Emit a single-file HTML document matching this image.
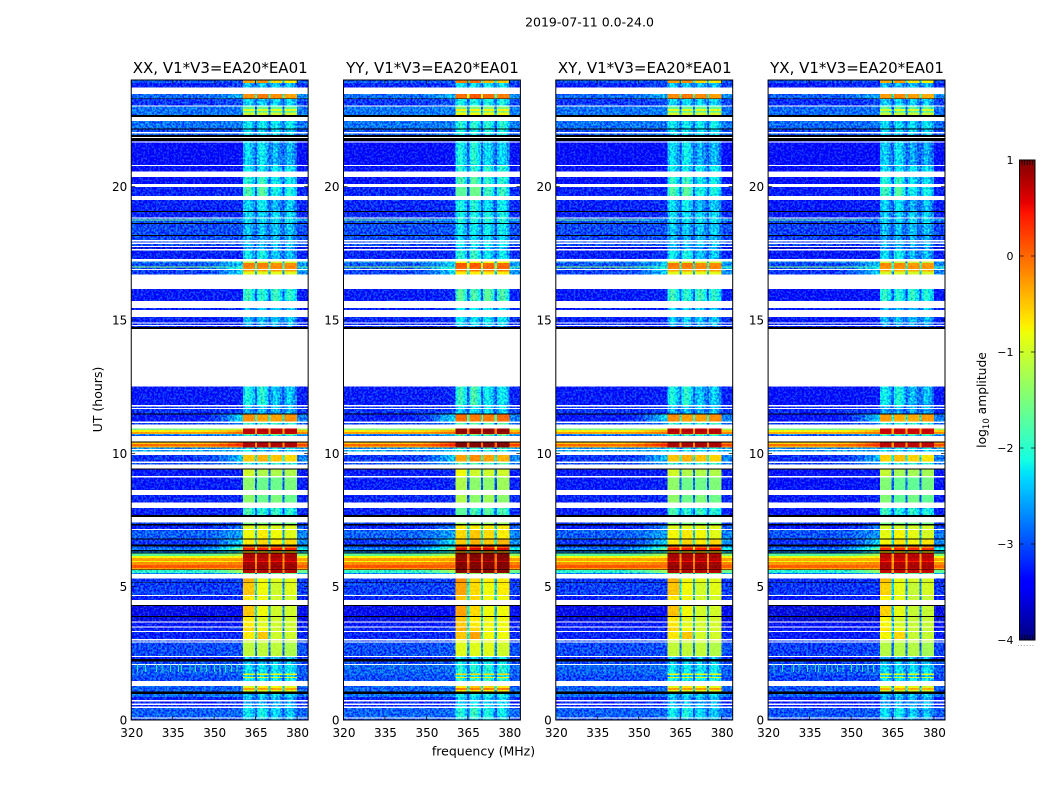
<!DOCTYPE html>
<html lang="en">
<head>
<meta charset="utf-8">
<title>2019-07-11 spectrogram</title>
<style>
html,body{margin:0;padding:0;background:#fff;}
svg{display:block;}
text{font-family:"DejaVu Sans","Liberation Sans",sans-serif;fill:#000;}
</style>
</head>
<body>
<svg id="figure" xmlns="http://www.w3.org/2000/svg" width="1050" height="800" viewBox="0 0 1050 800">
  <defs id="defs"></defs>
  <rect x="0" y="0" width="1050" height="800" fill="#fff"></rect>
  <text x="589.5" y="26.5" font-size="12.5" text-anchor="middle">2019-07-11 0.0-24.0</text>
  <text x="483.5" y="755.5" font-size="12.5" text-anchor="middle">frequency (MHz)</text>
  <text x="0" y="0" font-size="12.5" text-anchor="middle" transform="translate(102,399.5) rotate(-90)">UT (hours)</text>
  <text x="0" y="0" font-size="12.3" text-anchor="middle" transform="translate(986,400) rotate(-90)">log<tspan font-size="8.5" dy="3">10</tspan><tspan dy="-3"> amplitude</tspan></text>
  <text x="1017" y="646" font-size="8" fill="#888" style="fill:#888;letter-spacing:0.4px">......</text>
  <g id="panels"></g>
  <g id="colorbar"></g>
</svg>
<script>
// ---- chart data -------------------------------------------------------
const panelNames = ["XX, V1*V3=EA20*EA01", "YY, V1*V3=EA20*EA01", "XY, V1*V3=EA20*EA01", "YX, V1*V3=EA20*EA01"];
const panelOffLevelShift = [0, 0.02, 0, -0.05];
const panelOnLevelShift = [0, 0.2, 0.02, -0.06];
const xTickValues = [320, 335, 350, 365, 380];
const yTickValues = [0, 5, 10, 15, 20];
const colorbarTicks = [1, 0, -1, -2, -3, -4];
const W = null;   // no data (white)
const K = -99;    // flagged (black)
// sub-band boundaries (MHz)
const subbandEdges = [[360.5, 364.7], [365.5, 369.7], [370.4, 374.7], [375.5, 380]];
const gapEdges = [[364.7, 365.5], [369.7, 370.4], [374.7, 375.5]];
const rampEdges = [[320, 345], [345, 349], [349, 352], [352, 355], [355, 358], [358, 360.5]];
const rampFractions = [0, 0.08, 0.2, 0.4, 0.65, 0.9];
// level offset across a weak sub-band (bandpass shape)
const subbandProfile = [-0.12, 0.14, 0.12, -0.05, -0.28];
const rfiSpikeMHz = [322, 325, 329, 331, 334, 337, 338, 341, 343, 345, 347, 350, 352, 354, 356, 358];
const rfiSpikeHours = [1.8, 2.1];
const rfiSpikeLevel = -1.9;
// [row top in UT hours, off-band level, near-band level, sub-band 1..4 levels]
const spectrumRows = [
 [24.00,-3.0,-3.0,-0.3,-0.2,-0.6,-0.7],[23.89,-3.25,-3.1,-2.5],[23.72,W],
 [23.48,-2.9,-2.5,-0.2,-0.1,-0.2,-0.3],[23.31,K],[23.28,-3.15,-3.0,-2.4],[23.04,W],
 [23.00,-2.85,-2.8,-1.7],[22.91,-2.85,-2.8,-0.9],[22.84,-2.85,-2.8,-1.7],[22.78,-2.85,-2.8,-1.0],[22.69,K],[22.62,W],
 [22.46,-2.85,-2.8,-2.3],[22.19,K],[22.15,-3.05,-3.0,-2.4],[22.05,W],[22.00,-2.95,-2.9,-2.4],[21.93,K],[21.86,W],[21.82,K],
 [21.71,-3.4,-3.4,-2.5],[21.69,W],[21.65,-3.4,-3.35,-2.4,-2.3,-2.6,-2.6],[20.81,W],[20.78,-3.35,-3.35,-2.3],[20.56,W],
 [20.37,-3.35,-3.3,-2.1,-2.0,-2.3,-2.3],[20.10,W],[19.98,-3.25,-3.2,-1.9,-1.8,-2.2,-2.2],[19.65,W],
 [19.50,-3.25,-3.2,-2.4,-2.3,-2.6,-2.5],[19.08,K],[19.05,-3.25,-3.2,-2.4],[18.85,W],
 [18.81,-3.0,-3.0,-2.4],[18.77,-1.6,-2.6,-2.2],[18.73,-3.0,-3.0,-2.4],[18.63,K],
 [18.60,-3.05,-3.0,-2.5],[18.19,K],[18.15,-3.05,-3.0,-2.6],[18.00,W],[17.95,-3.05,-3.0,-2.5],[17.90,W],[17.85,-3.05,-3.0,-2.5],
 [17.78,W],[17.73,-3.6,-3.5,-2.7],[17.66,W],[17.60,-3.25,-3.2,-2.3,-2.2,-2.5,-2.5],[17.29,W],
 [17.19,-2.8,-2.3,-1.0],[17.13,-3.0,-2.4,-0.1,-0.1,-0.2,-0.2],[17.00,-1.4,-2.0,-0.1],[16.96,-3.0,-2.0,-0.2],[16.91,W],
 [16.88,-3.1,-2.3,-0.3],[16.82,-3.1,-2.3,-0.9],[16.71,W],
 [16.16,-3.3,-3.25,-2.0,-2.1,-2.0,-2.1],[15.71,W],[15.45,-3.25,-3.2,-2.5],[15.38,W],[15.12,-3.25,-3.2,-2.5],[14.90,W],
 [14.86,-3.2,-3.2,-2.6],[14.81,W],[14.78,-3.2,-3.2,-2.8],[14.74,K],[14.67,W],
 [12.50,-3.3,-3.25,-2.2,-2.1,-2.5,-2.5],[11.81,W],[11.75,-3.2,-3.2,-2.5],[11.70,W],[11.67,-3.15,-3.1,-2.6],[11.50,K],
 [11.46,-3.3,-2.3,-0.2,-0.3,-0.3,-0.2],[11.19,W],[11.13,-3.1,-2.8,-2.0],[11.09,W],
 [10.94,-1.5,-1.0,0.7],[10.88,-0.7,-0.3,0.75],[10.80,-0.3,0.0,0.7],[10.73,-2.4,-1.8,-0.8],[10.70,-3.0,-2.6,-2.2],[10.65,W],
 [10.45,K],[10.41,-0.5,0.2,0.8],[10.35,0.0,0.4,0.8],[10.28,-0.3,0.1,0.75],[10.21,-2.7,-2.5,-2.2],[10.17,W],[10.13,-2.6,-2.5,-2.3],[10.07,W],
 [9.94,-3.15,-2.4,-0.5,-0.4,-0.5,-0.6],[9.69,W],[9.64,-3.05,-2.6,-2.0],[9.59,W],[9.44,K],
 [9.40,-3.3,-3.25,-1.0,-1.2,-1.2,-1.2],[9.15,W],[9.09,-3.3,-3.25,-1.4,-1.6,-1.6,-1.5],[8.63,W],
 [8.44,-3.25,-3.2,-1.4,-1.6,-1.5,-1.6],[8.15,W],[7.95,-3.25,-3.2,-1.9,-2.1,-2.0,-2.1],[7.69,K],[7.62,W],
 [7.40,-3.1,-3.1,-1.5],[7.35,K],[7.30,-3.25,-2.8,-0.9],[7.17,W],
 [7.13,-2.95,-2.6,-0.8,-0.7,-0.8,-0.9],[6.81,K],[6.77,-3.15,-2.3,-0.7,-0.6,-0.7,-0.6],[6.59,K],
 [6.50,-3.0,-2.0,0.0,0.0,0.0,-0.1],[6.45,-2.8,-1.5,0.4],[6.38,K],[6.31,-2.8,-2.0,-0.5],[6.28,K],
 [6.24,-1.7,-1.2,0.8],[6.15,-0.8,-0.7,0.85],[6.08,-0.3,-0.3,0.75],[5.96,-0.8,-0.6,0.5],[5.93,-0.2,-0.1,0.85],
 [5.81,0.1,0.0,0.9],[5.70,-0.3,-0.3,0.8],[5.65,K],[5.63,-2.0,-1.2,0.75],[5.52,-2.8,-2.4,-1.6],[5.48,W],
 [5.31,-3.15,-3.1,-0.4,-0.8,-0.9,-0.9],[5.16,K],[5.14,-3.1,-3.1,-0.5,-0.8,-1.0,-0.9],[4.69,W],
 [4.65,-3.25,-3.2,-0.7,-0.8,-1.0,-1.0],[4.50,W],[4.31,K],[4.28,-3.55,-3.5,-0.5,-0.8,-1.0,-1.0],[3.90,K],
 [3.86,-3.6,-3.55,-0.7,-0.9,-1.0,-1.0],[3.69,W],[3.65,-3.3,-3.3,-0.7,-0.9,-1.0,-1.0],[3.50,W],
 [3.46,-3.25,-3.2,-0.6,-0.8,-1.0,-1.0],[3.34,W],[3.30,-3.25,-3.2,-0.7,-0.5,-1.0,-1.0],[3.03,W],
 [2.99,-3.1,-3.1,-1.0],[2.94,W],[2.90,-3.05,-3.0,-1.1,-1.1,-1.1,-1.2],[2.40,W],[2.36,-3.25,-3.2,-2.5],[2.28,K],
 [2.20,-3.05,-3.0,-2.5],[2.10,W],[2.06,-2.95,-2.9,-2.3],[1.75,-2.95,-2.9,-0.8],[1.69,-3.05,-3.0,-2.4],[1.61,-3.05,-3.0,-0.9],
 [1.58,-3.05,-3.0,-2.2],[1.47,W],[1.28,-2.95,-2.9,-0.9,-0.7,-0.8,-0.9],[1.20,-2.95,-2.9,-0.3],[1.13,-2.95,-2.9,-0.9],[1.06,K],
 [0.98,-2.85,-2.8,-2.4],[0.86,-3.25,-3.2,-2.6],[0.75,W],[0.70,-3.25,-3.2,-2.6],[0.62,W],[0.57,-3.25,-3.2,-2.5],[0.50,W],
 [0.45,-2.95,-2.9,-2.3,-2.2,-2.4,-2.5],[0.10,W],[0.06,-3.05,-3.0,-2.5]
];

// ---- layout & axis functions ------------------------------------------
const NS = "http://www.w3.org/2000/svg";
const panelLefts = [131.25, 343.5, 555.8, 768.1];
const panelWidth = 176.9, panelTop = 80, panelBottom = 720;
const FMIN = 320, FMAX = 384, HMAX = 24;
const xScale = (left, f) => left + (f - FMIN) / (FMAX - FMIN) * panelWidth;
const yScale = h => panelBottom - (h / HMAX) * (panelBottom - panelTop);
const cbarX = 1019.5, cbarW = 15.5, cbarTop = 160, cbarBottom = 640;
const cbarY = v => cbarTop + (1 - v) / 5 * (cbarBottom - cbarTop);

function lerp(xs, ys, t) {
  for (let i = 1; i < xs.length; i++) {
    if (t <= xs[i]) return ys[i - 1] + (ys[i] - ys[i - 1]) * (t - xs[i - 1]) / (xs[i] - xs[i - 1]);
  }
  return ys[ys.length - 1];
}
function jet(level) {
  const t = Math.max(0, Math.min(1, (level + 4) / 5));
  const r = lerp([0, .35, .66, .89, 1], [0, 0, 1, 1, .5], t);
  const g = lerp([0, .125, .375, .64, .91, 1], [0, 0, 1, 1, 0, 0], t);
  const b = lerp([0, .11, .34, .65, 1], [.5, 1, 1, 0, 0], t);
  return "rgb(" + Math.round(r * 255) + "," + Math.round(g * 255) + "," + Math.round(b * 255) + ")";
}
function make(tag, attrs, parent) {
  const e = document.createElementNS(NS, tag);
  for (const k in attrs) e.setAttribute(k, attrs[k]);
  if (parent) parent.appendChild(e);
  return e;
}

// ---- speckle texture filters ------------------------------------------
const defs = document.getElementById("defs");
function addSpeckle(id, seed, k) {
  const f = make("filter", {id: id, x: "0", y: "0", width: "1", height: "1", "color-interpolation-filters": "sRGB"}, defs);
  make("feTurbulence", {type: "fractalNoise", baseFrequency: "0.46 0.5", numOctaves: "2", seed: seed, result: "t"}, f);
  make("feColorMatrix", {in: "t", type: "matrix", values: "1.4 0 0 0 -0.2  4 0 0 0 -1.42  0 1 0 0 0  0 0 0 0 1", result: "n"}, f);
  make("feComposite", {in: "SourceGraphic", in2: "n", operator: "arithmetic", k1: "0", k2: "1", k3: String(k), k4: String(-k / 2), result: "a"}, f);
  make("feComposite", {in: "a", in2: "SourceAlpha", operator: "in"}, f);
}

// ---- panels -----------------------------------------------------------
const panelsRoot = document.getElementById("panels");
panelNames.forEach(function (name, p) {
  const left = panelLefts[p];
  addSpeckle("speckle-" + p, 3 + p * 7, 0.44);
  addSpeckle("soft-" + p, 5 + p * 7, 0.1);

  const panel = make("g", {}, panelsRoot);
  
  

  const noisy = make("g", {filter: "url(#speckle-" + p + ")", "shape-rendering": "crispEdges"}, panel);
  
  
  const soft = make("g", {filter: "url(#soft-" + p + ")", "shape-rendering": "crispEdges"}, panel);
  
  
  const flagged = make("g", {"shape-rendering": "crispEdges"}, panel);
  
  

  function cell(f0, f1, h0, h1, level) {
    const c = make("rect", {
      x: xScale(left, f0), y: yScale(h0),
      width: xScale(left, f1) - xScale(left, f0),
      height: yScale(h1) - yScale(h0),
      fill: jet(level)
    }, level < -1.75 ? noisy : soft);
    
    
  }

  spectrumRows.forEach(function (row, i) {
    const top = row[0];
    const bottom = i + 1 < spectrumRows.length ? spectrumRows[i + 1][0] : 0;
    if (row[1] === W) return;
    if (row[1] === K) {
      const b = make("rect", {
        x: left, y: yScale(top), width: panelWidth,
        height: yScale(bottom) - yScale(top), fill: "#000"
      }, flagged);
      
      
      return;
    }
    const off = row[1] + panelOffLevelShift[p];
    const near = row[2] + panelOffLevelShift[p];
    const on = [row[3], row[4] === undefined ? row[3] : row[4], row[5] === undefined ? row[3] : row[5], row[6] === undefined ? row[3] : row[6]]
      .map(function (v) { return v + panelOnLevelShift[p]; });
    rampEdges.forEach(function (edge, j) {
      cell(edge[0], edge[1], top, bottom, off + (near - off) * rampFractions[j]);
    });
    subbandEdges.forEach(function (edge, j) {
      if (on[j] < -1.7) {
        const n = subbandProfile.length;
        const w = (edge[1] - edge[0]) / n;
        subbandProfile.forEach(function (d, q) {
          cell(edge[0] + q * w, edge[0] + (q + 1) * w, top, bottom, on[j] + d);
        });
      } else {
        cell(edge[0], edge[1], top, bottom, on[j]);
      }
    });
    gapEdges.forEach(function (edge, j) {
      const m = (on[j] + on[j + 1]) / 2;
      cell(edge[0], edge[1], top, bottom, Math.max(-2.95, m - (m > 0 ? 1 : 1.7)));
    });
    cell(380, FMAX, top, bottom, (off + near) / 2);
  });

  rfiSpikeMHz.forEach(function (f) {
    const s = make("rect", {
      x: xScale(left, f), y: yScale(rfiSpikeHours[1]), width: 1,
      height: yScale(rfiSpikeHours[0]) - yScale(rfiSpikeHours[1]),
      fill: jet(rfiSpikeLevel), "fill-opacity": p === 0 || p === 3 ? 0.9 : 0.45
    }, soft);
    
    
  });

  // frame
  const frame = make("rect", {x: left, y: panelTop, width: panelWidth, height: panelBottom - panelTop, fill: "none", stroke: "#000", "stroke-width": 1}, panel);
  
  

  // title
  const title = make("text", {x: left + panelWidth / 2 + 0.5, y: 73, "font-size": "15", "text-anchor": "middle"}, panel);
  title.textContent = name;
  
  

  // x ticks
  xTickValues.forEach(function (v) {
    const x = xScale(left, v);
    [[panelBottom, panelBottom - 4], [panelTop, panelTop + 4]].forEach(function (s) {
      const t = make("line", {x1: x, x2: x, y1: s[0], y2: s[1], stroke: "#000", "stroke-width": 0.7}, panel);
      
      
    });
    const lab = make("text", {x: x + 0.5, y: 737, "font-size": "12", "text-anchor": "middle"}, panel);
    lab.textContent = String(v);
    
    
  });

  // y ticks
  yTickValues.forEach(function (v) {
    const y = yScale(v);
    [[left, left + 4], [left + panelWidth, left + panelWidth - 4]].forEach(function (s) {
      const t = make("line", {x1: s[0], x2: s[1], y1: y, y2: y, stroke: "#000", "stroke-width": 0.7}, panel);
      
      
    });
    const lab = make("text", {x: left - 4, y: y + 4.5, "font-size": "12", "text-anchor": "end"}, panel);
    lab.textContent = String(v);
    
    
  });
});

// ---- colorbar ---------------------------------------------------------
const cbarRoot = document.getElementById("colorbar");
const cbarSteps = [];
for (let v = 1; v > -4; v -= 0.02) cbarSteps.push(v);
const cbarFill = make("g", {"shape-rendering": "crispEdges"}, cbarRoot);


cbarSteps.forEach(function (v) {
  const r = make("rect", {x: cbarX, y: cbarY(v), width: cbarW, height: cbarY(v - 0.02) - cbarY(v) + 0.5, fill: jet(v - 0.01)}, cbarFill);
  
  
});
const cbarFrame = make("rect", {x: cbarX, y: cbarTop, width: cbarW, height: cbarBottom - cbarTop, fill: "none", stroke: "#000", "stroke-width": 1}, cbarRoot);


colorbarTicks.forEach(function (v) {
  const y = cbarY(v);
  if (v < 1 && v > -4) {
    [[cbarX, cbarX + 4], [cbarX + cbarW, cbarX + cbarW - 4]].forEach(function (s) {
      const t = make("line", {x1: s[0], x2: s[1], y1: y, y2: y, stroke: "#000", "stroke-width": 0.7}, cbarRoot);
      
      
    });
  }
  const lab = make("text", {x: 1013.5, y: y + 4, "font-size": "11", "text-anchor": "end"}, cbarRoot);
  lab.textContent = v < 0 ? "\u2212" + Math.abs(v) : String(v);
  
  
});
const cbarMinorFractions = [0.17, 0.33, 0.5, 0.67, 0.83];
cbarMinorFractions.forEach(function (fr) {
  const x = cbarX + cbarW * fr;
  [[cbarTop, cbarTop + 5], [cbarBottom, cbarBottom - 5]].forEach(function (s) {
    const t = make("line", {x1: x, x2: x, y1: s[0], y2: s[1], stroke: "#000", "stroke-width": 0.7}, cbarRoot);
    
    
  });
});
</script>
</body>
</html>
